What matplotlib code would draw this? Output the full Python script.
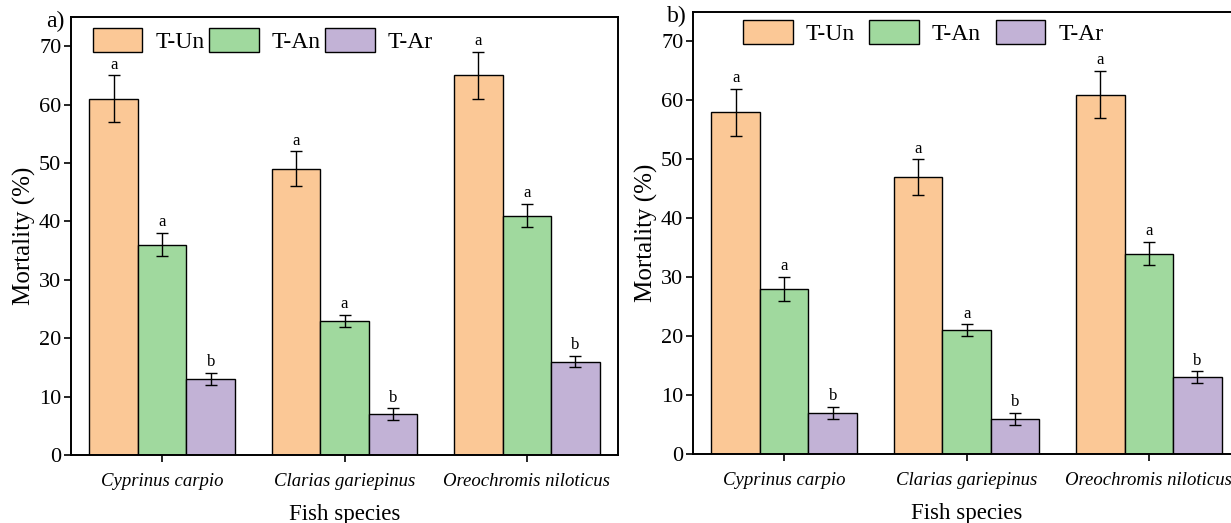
import matplotlib
matplotlib.use("Agg")
import matplotlib.pyplot as plt
import numpy as np

# ---- data ----
species = ["Cyprinus carpio", "Clarias gariepinus", "Oreochromis niloticus"]
treatments = ["T-Un", "T-An", "T-Ar"]

a_un = [61, 49, 65]
a_un_err = [4, 3, 4]
a_an = [36, 23, 41]
a_an_err = [2, 1, 2]
a_ar = [13, 7, 16]
a_ar_err = [1, 1, 1]

b_un = [58, 47, 61]
b_un_err = [4, 3, 4]
b_an = [28, 21, 34]
b_an_err = [2, 1, 2]
b_ar = [7, 6, 13]
b_ar_err = [1, 1, 1]

letters = ["a", "a", "b"]
yticks = [0, 10, 20, 30, 40, 50, 60, 70]

COLORS = ["#FBC896", "#A0D99E", "#C2B2D6"]

plt.rcParams["font.family"] = ["Liberation Serif", "DejaVu Serif"]


def draw_panel(ax, vals, errs, tag, leg_x, leg_y, colspace):
    x = np.arange(len(species))
    w = 0.266
    handles = []
    for i, (v, e) in enumerate(zip(vals, errs)):
        pos = x + (i - 1) * w
        b = ax.bar(pos, v, width=w, color=COLORS[i], edgecolor="black",
                   linewidth=1.0, label=treatments[i], zorder=2)
        ax.errorbar(pos, v, yerr=e, fmt="none", ecolor="black",
                    elinewidth=1.0, capsize=4, capthick=1.0, zorder=3)
        for p, vv, ee in zip(pos, v, e):
            ax.annotate(letters[i], (p, vv + ee), textcoords="offset points",
                        xytext=(0, 2), ha="center", va="bottom", fontsize=12)
        handles.append(b)
    ax.set_xlim(-0.5, 2.5)
    ax.set_ylim(0, 75)
    ax.set_yticks(yticks)
    ax.set_xticks(x)
    ax.set_xticklabels(species, style="italic", fontsize=13.5)
    ax.tick_params(axis="y", labelsize=16, direction="out", length=5, width=1.2, pad=2)
    ax.tick_params(axis="x", direction="out", length=5, width=1.2, pad=8)
    for s in ax.spines.values():
        s.set_linewidth(1.4)
    ax.set_xlabel("Fish species", fontsize=16.5, labelpad=10)
    ax.set_ylabel("Mortality (%)", fontsize=18, labelpad=2)
    ax.legend(handles=handles, ncol=3, frameon=False, fontsize=17,
              loc="upper left", bbox_to_anchor=(leg_x, leg_y),
              borderaxespad=0, handlelength=2.1, handleheight=1.2,
              handletextpad=0.55, columnspacing=colspace)
    ax.text(-0.012, 0.99, tag, transform=ax.transAxes, fontsize=17,
            ha="right", va="center")


fig = plt.figure(figsize=(12.31, 5.23), dpi=100)
ax1 = fig.add_axes([0.0577, 0.130, 0.4444, 0.8375])
ax2 = fig.add_axes([0.563, 0.132, 0.4444, 0.845])

draw_panel(ax1, [a_un, a_an, a_ar], [a_un_err, a_an_err, a_ar_err], "a)", 0.022, 0.997, 0.2)
draw_panel(ax2, [b_un, b_an, b_ar], [b_un_err, b_an_err, b_ar_err], "b)", 0.074, 1.003, 0.62)

fig.savefig("out.png", dpi=100)
